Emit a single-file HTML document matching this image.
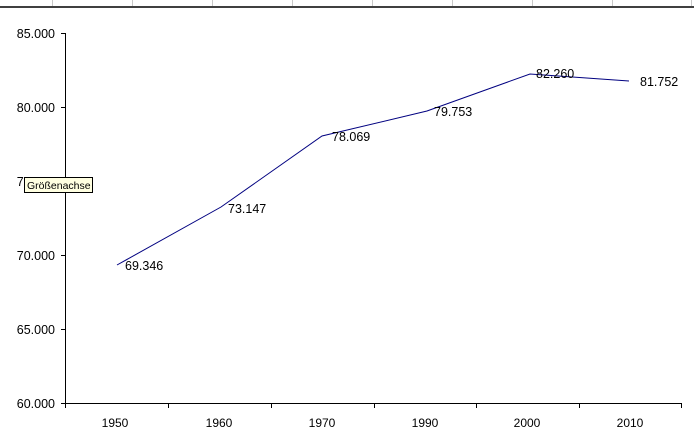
<!DOCTYPE html>
<html><head><meta charset="utf-8"><style>
html,body{margin:0;padding:0;background:#fff;}
svg{display:block;}
text{font-family:"Liberation Sans",Arial,sans-serif;fill:#000;}
</style></head><body>
<svg width="694" height="444" viewBox="0 0 694 444" xmlns="http://www.w3.org/2000/svg">
<rect x="0" y="0" width="694" height="444" fill="#fff"/>
<!-- top grid remnants -->
<g stroke="#c8c8c8" stroke-width="1">
<line x1="52.5" y1="0" x2="52.5" y2="6"/>
<line x1="132.5" y1="0" x2="132.5" y2="6"/>
<line x1="212.5" y1="0" x2="212.5" y2="6"/>
<line x1="292.5" y1="0" x2="292.5" y2="6"/>
<line x1="372.5" y1="0" x2="372.5" y2="6"/>
<line x1="452.5" y1="0" x2="452.5" y2="6"/>
<line x1="532.5" y1="0" x2="532.5" y2="6"/>
<line x1="612.5" y1="0" x2="612.5" y2="6"/>
<line x1="691.5" y1="0" x2="691.5" y2="6"/>
</g>
<line x1="0" y1="7" x2="694" y2="7" stroke="#000" stroke-width="1.5"/>

<!-- axes -->
<g stroke="#000" stroke-width="1">
<line x1="65.5" y1="33" x2="65.5" y2="403.5"/>
<line x1="65" y1="403.5" x2="682" y2="403.5"/>
<line x1="61" y1="33.5" x2="65" y2="33.5"/>
<line x1="61" y1="107.5" x2="65" y2="107.5"/>
<line x1="61" y1="181.5" x2="65" y2="181.5"/>
<line x1="61" y1="255.5" x2="65" y2="255.5"/>
<line x1="61" y1="329.5" x2="65" y2="329.5"/>
<line x1="61" y1="403.5" x2="65" y2="403.5"/>
<line x1="65.5" y1="403" x2="65.5" y2="408"/>
<line x1="168.5" y1="403" x2="168.5" y2="408"/>
<line x1="271.5" y1="403" x2="271.5" y2="408"/>
<line x1="374.5" y1="403" x2="374.5" y2="408"/>
<line x1="476.5" y1="403" x2="476.5" y2="408"/>
<line x1="579.5" y1="403" x2="579.5" y2="408"/>
<line x1="681.5" y1="403" x2="681.5" y2="408"/>
</g>

<!-- y labels -->
<g font-size="12.5" text-anchor="end">
<text x="55" y="38">85.000</text>
<text x="55" y="112">80.000</text>
<text x="55" y="186">75.000</text>
<text x="55" y="260">70.000</text>
<text x="55" y="334">65.000</text>
<text x="55" y="408">60.000</text>
</g>

<!-- x labels -->
<g font-size="12" text-anchor="middle">
<text x="115" y="427">1950</text>
<text x="219" y="427">1960</text>
<text x="322" y="427">1970</text>
<text x="425" y="427">1990</text>
<text x="527" y="427">2000</text>
<text x="630" y="427">2010</text>
</g>

<!-- series -->
<polyline fill="none" stroke="#000080" stroke-width="1" points="117,265 221,207 322,136 427,111 530,74 629,81"/>

<!-- data labels -->
<g font-size="12.5">
<text x="125" y="270">69.346</text>
<text x="228" y="213">73.147</text>
<text x="332" y="141">78.069</text>
<text x="434" y="116">79.753</text>
<text x="536" y="78">82.260</text>
<text x="640" y="86">81.752</text>
</g>

<!-- tooltip -->
<rect x="24.5" y="177.5" width="68" height="15" fill="#ffffe1" stroke="#000" stroke-width="1"/>
<text x="27" y="189" font-size="10.5">Größenachse</text>
</svg>
</body></html>
